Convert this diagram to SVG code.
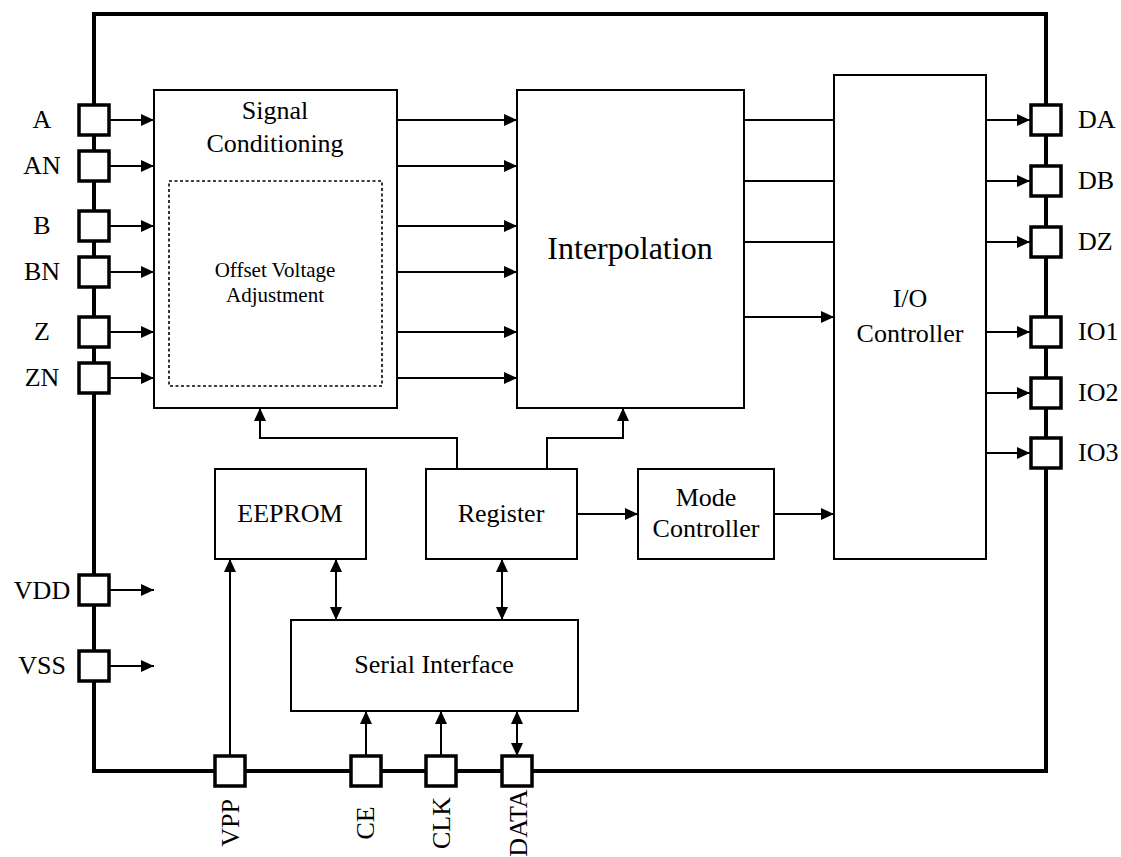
<svg xmlns="http://www.w3.org/2000/svg" width="1121" height="857" viewBox="0 0 1121 857" font-family="'Liberation Serif','Times New Roman',serif">
<style>
.blk{fill:#fff;stroke:#000;stroke-width:2}
.pin{fill:#fff;stroke:#000;stroke-width:3.5}
.frame{fill:none;stroke:#000;stroke-width:4}
.ln{fill:none;stroke:#000;stroke-width:2}
.ar{fill:none;stroke:#000;stroke-width:2;marker-end:url(#ah)}
.ar2{fill:none;stroke:#000;stroke-width:2;marker-start:url(#ah);marker-end:url(#ah)}
.dash{fill:none;stroke:#000;stroke-width:1.6;stroke-dasharray:3,2.5}
text{font-family:"Liberation Serif","Times New Roman",serif;font-size:26px;fill:#000}
.c{text-anchor:middle}
</style>
<defs>
<marker id="ah" markerUnits="userSpaceOnUse" markerWidth="13" markerHeight="12" refX="13" refY="6" orient="auto-start-reverse">
<path d="M0,0 L13,6 L0,12 z" fill="#000"/>
</marker>
</defs>
<rect x="0" y="0" width="1121" height="857" fill="#fff"/>
<g id="frame">
<rect class="frame" x="94" y="14" width="952" height="757"/>
</g>
<g id="connectors">
<path class="ar" d="M109,120H154"/>
<path class="ar" d="M109,166H154"/>
<path class="ar" d="M109,226H154"/>
<path class="ar" d="M109,272H154"/>
<path class="ar" d="M109,332H154"/>
<path class="ar" d="M109,378H154"/>
<path class="ar" d="M109,590H154"/>
<path class="ar" d="M109,666H154"/>
<path class="ar" d="M397,120H517"/>
<path class="ar" d="M397,166H517"/>
<path class="ar" d="M397,226H517"/>
<path class="ar" d="M397,272H517"/>
<path class="ar" d="M397,332H517"/>
<path class="ar" d="M397,378H517"/>
<path class="ln" d="M744,120H834M744,181H834M744,242H834"/>
<path class="ar" d="M744,317H834"/>
<path class="ar" d="M986,120H1030"/>
<path class="ar" d="M986,181H1030"/>
<path class="ar" d="M986,242H1030"/>
<path class="ar" d="M986,332H1030"/>
<path class="ar" d="M986,393H1030"/>
<path class="ar" d="M986,453H1030"/>
<path class="ar" d="M457,469V438H260V408"/>
<path class="ar" d="M547,469V438H623V408"/>
<path class="ar" d="M577,514H638"/>
<path class="ar" d="M774,514H834"/>
<path class="ar2" d="M336,559V620"/>
<path class="ar2" d="M502,559V620"/>
<path class="ar" d="M230,756V559"/>
<path class="ar" d="M366,756V711"/>
<path class="ar" d="M441,756V711"/>
<path class="ar2" d="M517,756V711"/>
</g>
<g id="signal-conditioning">
<rect class="blk" x="154" y="90" width="243" height="318"/>
<text class="c" x="275" y="119">Signal</text>
<text class="c" x="275" y="152">Conditioning</text>
</g>
<g id="offset-voltage">
<rect class="dash" x="169" y="181" width="213" height="205"/>
<text class="c" x="275" y="277" style="font-size:21px">Offset Voltage</text>
<text class="c" x="275" y="302" style="font-size:21px">Adjustment</text>
</g>
<g id="interpolation">
<rect class="blk" x="517" y="90" width="227" height="318"/>
<text class="c" x="630" y="259" style="font-size:32px">Interpolation</text>
</g>
<g id="io-controller">
<rect class="blk" x="834" y="75" width="152" height="484"/>
<text class="c" x="910" y="307">I/O</text>
<text class="c" x="910" y="342">Controller</text>
</g>
<g id="eeprom">
<rect class="blk" x="215" y="469" width="151" height="90"/>
<text class="c" x="290" y="522">EEPROM</text>
</g>
<g id="register">
<rect class="blk" x="426" y="469" width="151" height="90"/>
<text class="c" x="501" y="522">Register</text>
</g>
<g id="mode-controller">
<rect class="blk" x="638" y="469" width="136" height="90"/>
<text class="c" x="706" y="506">Mode</text>
<text class="c" x="706" y="537">Controller</text>
</g>
<g id="serial-interface">
<rect class="blk" x="291" y="620" width="287" height="91"/>
<text class="c" x="434" y="673">Serial Interface</text>
</g>
<g id="pins-left">
<rect class="pin" x="79" y="105" width="30" height="30"/><text class="c" x="42" y="128">A</text>
<rect class="pin" x="79" y="151" width="30" height="30"/><text class="c" x="42" y="174">AN</text>
<rect class="pin" x="79" y="211" width="30" height="30"/><text class="c" x="42" y="234">B</text>
<rect class="pin" x="79" y="257" width="30" height="30"/><text class="c" x="42" y="280">BN</text>
<rect class="pin" x="79" y="317" width="30" height="30"/><text class="c" x="42" y="340">Z</text>
<rect class="pin" x="79" y="363" width="30" height="30"/><text class="c" x="42" y="386">ZN</text>
<rect class="pin" x="79" y="575" width="30" height="30"/><text class="c" x="42" y="599">VDD</text>
<rect class="pin" x="79" y="651" width="30" height="30"/><text class="c" x="42" y="674">VSS</text>
</g>
<g id="pins-right">
<rect class="pin" x="1031" y="105" width="30" height="30"/><text x="1078" y="128">DA</text>
<rect class="pin" x="1031" y="166" width="30" height="30"/><text x="1078" y="189">DB</text>
<rect class="pin" x="1031" y="227" width="30" height="30"/><text x="1078" y="250">DZ</text>
<rect class="pin" x="1031" y="317" width="30" height="30"/><text x="1078" y="340">IO1</text>
<rect class="pin" x="1031" y="378" width="30" height="30"/><text x="1078" y="401">IO2</text>
<rect class="pin" x="1031" y="438" width="30" height="30"/><text x="1078" y="461">IO3</text>
</g>
<g id="pins-bottom">
<rect class="pin" x="215" y="756" width="30" height="30"/><text class="c" transform="translate(239,823) rotate(-90)">VPP</text>
<rect class="pin" x="351" y="756" width="30" height="30"/><text class="c" transform="translate(374,823) rotate(-90)">CE</text>
<rect class="pin" x="426" y="756" width="30" height="30"/><text class="c" transform="translate(450,823) rotate(-90)">CLK</text>
<rect class="pin" x="502" y="756" width="30" height="30"/><text class="c" transform="translate(527,823) rotate(-90)">DATA</text>
</g>
</svg>
